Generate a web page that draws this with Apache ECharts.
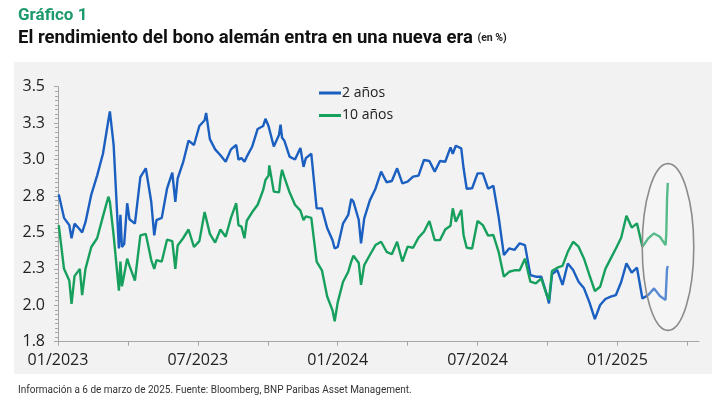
<!DOCTYPE html>
<html>
<head>
<meta charset="utf-8">
<script src="https://cdn.jsdelivr.net/npm/echarts@6/dist/echarts.min.js"></script>
<style>
  html, body { margin: 0; padding: 0; background: #fff; }
  #chart { width: 725px; height: 404px; }
</style>
</head>
<body>
<div id="chart"></div>
<script>
// fechas de las observaciones (semanales, con algunos puntos extra en los picos)
var fechas = [
    '2023-01-02','2023-01-09','2023-01-16','2023-01-19','2023-01-23','2023-01-30','2023-02-02','2023-02-06',
    '2023-02-13','2023-02-20','2023-02-27','2023-03-06','2023-03-08','2023-03-13','2023-03-20','2023-03-22',
    '2023-03-24','2023-03-27','2023-03-31','2023-04-03','2023-04-10','2023-04-17','2023-04-24','2023-05-01',
    '2023-05-05','2023-05-08','2023-05-15','2023-05-22','2023-05-29','2023-06-02','2023-06-05','2023-06-12',
    '2023-06-19','2023-06-26','2023-07-03','2023-07-10','2023-07-12','2023-07-17','2023-07-24','2023-07-31',
    '2023-08-07','2023-08-14','2023-08-21','2023-08-24','2023-08-28','2023-09-01','2023-09-04','2023-09-11',
    '2023-09-18','2023-09-25','2023-09-28','2023-10-02','2023-10-03','2023-10-09','2023-10-16','2023-10-18',
    '2023-10-20','2023-10-23','2023-10-30','2023-11-06','2023-11-13','2023-11-17','2023-11-20','2023-11-27',
    '2023-12-04','2023-12-11','2023-12-18','2023-12-25','2023-12-28','2024-01-01','2024-01-08','2024-01-15',
    '2024-01-19','2024-01-22','2024-01-29','2024-02-01','2024-02-05','2024-02-12','2024-02-19','2024-02-26',
    '2024-03-04','2024-03-11','2024-03-18','2024-03-25','2024-04-01','2024-04-08','2024-04-15','2024-04-22',
    '2024-04-29','2024-05-06','2024-05-13','2024-05-20','2024-05-27','2024-05-30','2024-06-03','2024-06-10',
    '2024-06-13','2024-06-17','2024-06-24','2024-07-01','2024-07-08','2024-07-15','2024-07-22','2024-07-29',
    '2024-08-05','2024-08-12','2024-08-19','2024-08-26','2024-09-02','2024-09-09','2024-09-16','2024-09-23',
    '2024-09-30','2024-10-03','2024-10-07','2024-10-14','2024-10-21','2024-10-28','2024-11-04','2024-11-11',
    '2024-11-18','2024-11-25','2024-12-02','2024-12-09','2024-12-16','2024-12-23','2024-12-30','2025-01-06',
    '2025-01-13','2025-01-20','2025-01-27','2025-02-03','2025-02-10','2025-02-17','2025-02-24','2025-03-03',
    '2025-03-04','2025-03-05','2025-03-06'
];

// rendimiento bono alemán a 2 años (%)
var dosAnos = [
    2.76, 2.60, 2.55, 2.46, 2.56, 2.52, 2.50, 2.57,
    2.76, 2.89, 3.04, 3.27, 3.33, 3.10, 2.39, 2.62,
    2.40, 2.42, 2.70, 2.59, 2.56, 2.88, 2.94, 2.71,
    2.48, 2.585, 2.60, 2.80, 2.91, 2.71, 2.87, 2.98,
    3.13, 3.10, 3.23, 3.27, 3.32, 3.14, 3.07, 3.03,
    2.985, 3.07, 3.10, 3.00, 3.01, 2.985, 3.02, 3.09,
    3.21, 3.23, 3.28, 3.23, 3.21, 3.09, 3.17, 3.24,
    3.15, 3.13, 3.02, 3.00, 3.08, 2.95, 3.01, 3.04,
    2.665, 2.665, 2.53, 2.448, 2.39, 2.40, 2.56, 2.62,
    2.73, 2.71, 2.585, 2.425, 2.596, 2.72, 2.80, 2.917,
    2.844, 2.853, 2.94, 2.837, 2.848, 2.883, 2.89, 2.997,
    2.99, 2.917, 2.99, 2.985, 3.084, 3.04, 3.095, 3.077,
    2.94, 2.80, 2.803, 2.905, 2.905, 2.80, 2.82, 2.608,
    2.345, 2.39, 2.38, 2.425, 2.413, 2.207, 2.196, 2.196,
    2.075, 2.013, 2.212, 2.242, 2.14, 2.287, 2.242, 2.162,
    2.116, 2.02, 1.905, 2.002, 2.043, 2.059, 2.07, 2.16,
    2.287, 2.224, 2.258, 2.047, 2.07, 2.116, 2.063, 2.036,
    2.03, 2.25, 2.27
];

// rendimiento bono alemán a 10 años (%)
var diezAnos = [
    2.55, 2.25, 2.17, 2.01, 2.20, 2.25, 2.07, 2.25,
    2.40, 2.46, 2.61, 2.745, 2.71, 2.48, 2.10, 2.30,
    2.13, 2.21, 2.32, 2.27, 2.17, 2.48, 2.49, 2.31,
    2.25, 2.31, 2.30, 2.45, 2.44, 2.25, 2.41, 2.46,
    2.52, 2.40, 2.44, 2.64, 2.64, 2.49, 2.43, 2.52,
    2.47, 2.60, 2.70, 2.55, 2.54, 2.46, 2.58, 2.64,
    2.69, 2.79, 2.86, 2.89, 2.96, 2.78, 2.775, 2.87,
    2.93, 2.88, 2.775, 2.69, 2.65, 2.585, 2.61, 2.60,
    2.30, 2.24, 2.06, 1.967, 1.89, 2.02, 2.16, 2.23,
    2.30, 2.34, 2.29, 2.14, 2.276, 2.345, 2.413, 2.436,
    2.367, 2.35, 2.436, 2.30, 2.402, 2.395, 2.464, 2.505,
    2.578, 2.447, 2.447, 2.52, 2.546, 2.665, 2.574, 2.654,
    2.48, 2.395, 2.39, 2.578, 2.55, 2.478, 2.482, 2.367,
    2.196, 2.23, 2.24, 2.24, 2.32, 2.162, 2.15, 2.185,
    2.07, 2.036, 2.235, 2.258, 2.27, 2.367, 2.436, 2.402,
    2.32, 2.207, 2.098, 2.127, 2.25, 2.32, 2.39, 2.464,
    2.615, 2.533, 2.562, 2.402, 2.459, 2.493, 2.47, 2.413,
    2.49, 2.73, 2.84
];

// etiquetas del eje horizontal
var fechasEtiqueta = ['2023-01-01', '2023-07-01', '2024-01-01', '2024-07-01', '2025-01-01'];
var etiquetasX = ['01/2023', '07/2023', '01/2024', '07/2024', '01/2025'];
var fechasTick = ['2023-01-01','2023-04-01','2023-07-01','2023-10-01','2024-01-01','2024-04-01',
    '2024-07-01','2024-10-01','2025-01-01','2025-04-01'];

// meses transcurridos desde 01/2023
var aMeses = function(f){
    var p = f.split('-');
    var y = +p[0], m = +p[1], d = +p[2];
    var dias = new Date(y, m, 0).getDate();
    return (y - 2023) * 12 + (m - 1) + (d - 1) / dias;
};

var azul = '#1b5fc1';
var verde = '#17a05d';
var fuente = 'Open Sans';

var posEtiquetas = fechasEtiqueta.map(aMeses);
var posTicks = fechasTick.map(aMeses);

var option = {
    backgroundColor: '#ffffff',
    animation: false,
    textStyle: { fontFamily: fuente },
    title: [
        {
            text: 'Gráfico 1',
            left: 13, top: 2,
            textStyle: { color: '#1d9a6c', fontSize: 17, fontWeight: 'bold', fontFamily: 'Roboto' }
        },
        {
            text: '{a|El rendimiento del bono alemán entra en una nueva era} {b|(en %)}',
            left: 13, top: 24,
            textStyle: {
                rich: {
                    a: { color: '#111', fontSize: 18.5, fontWeight: 'bold', fontFamily: 'Roboto' },
                    b: { color: '#222', fontSize: 10.5, fontFamily: 'Roboto' }
                }
            }
        },
        {
            text: 'Información a 6 de marzo de 2025. Fuente: Bloomberg, BNP Paribas Asset Management.',
            left: 13, top: 380,
            textStyle: { color: '#333', fontSize: 10, fontWeight: 'normal', fontFamily: 'Roboto' }
        }
    ],
    legend: {
        orient: 'vertical',
        left: 314, top: 80,
        icon: 'rect',
        itemWidth: 22, itemHeight: 3,
        itemGap: 6.5,
        textStyle: { color: '#222', fontSize: 14, lineHeight: 16, padding: [0, 0, 0, -4] },
        data: ['2 años', '10 años']
    },
    grid: { left: 58, right: 26, top: 86.7, bottom: 62.3 },
    xAxis: {
        type: 'value',
        min: 0, max: 27.5,
        axisLine: { lineStyle: { color: '#a6a6a6', width: 1 } },
        axisTick: { show: true, length: 4, customValues: posTicks, lineStyle: { color: '#a6a6a6' } },
        axisLabel: {
            customValues: posEtiquetas,
            margin: 11,
            color: '#222', fontSize: 16,
            formatter: function(v){
                var i = posEtiquetas.indexOf(v);
                return i >= 0 ? etiquetasX[i] : '';
            }
        },
        splitLine: { show: false }
    },
    yAxis: {
        type: 'value',
        min: 1.75, max: 3.5, interval: 0.25,
        axisLine: { show: true, lineStyle: { color: '#a6a6a6', width: 1 } },
        axisTick: { show: true, length: 4, lineStyle: { color: '#a6a6a6' } },
        minorTick: { show: true, splitNumber: 8, length: 3, lineStyle: { color: '#a6a6a6' } },
        axisLabel: {
            margin: 13, color: '#222', fontSize: 16,
            formatter: function(v){ return v.toFixed(1); }
        },
        splitLine: { show: false }
    },
    graphic: [
        {
            id: 'fondo', type: 'rect', z: -10, silent: true,
            shape: { x: 14, y: 62, width: 698, height: 312 },
            style: { fill: '#f2f2f2' }
        }
    ],
    series: [
        {
            name: '2 años', type: 'line', showSymbol: false, symbol: 'none',
            lineStyle: { color: azul, width: 2.4 }, itemStyle: { color: azul },
            data: fechas.map(function(f, i){ return [aMeses(f), dosAnos[i]]; })
        },
        {
            name: '10 años', type: 'line', showSymbol: false, symbol: 'none',
            lineStyle: { color: verde, width: 2.4 }, itemStyle: { color: verde },
            data: fechas.map(function(f, i){ return [aMeses(f), diezAnos[i]]; })
        }
    ]
};

var myChart = echarts.init(document.getElementById('chart'), null, { renderer: 'canvas' });
myChart.setOption(option);

// elipse que resalta el último movimiento (centro y semiejes en unidades de datos)
var elipse = { x: 26.17, y: 2.40, dx: 1.105, dy: 0.572 };
var c = myChart.convertToPixel({ gridIndex: 0 }, [elipse.x, elipse.y]);
var e = myChart.convertToPixel({ gridIndex: 0 }, [elipse.x + elipse.dx, elipse.y + elipse.dy]);
myChart.setOption({
    graphic: [
        {
            id: 'elipse', type: 'ellipse', z: 10, silent: true,
            shape: { cx: c[0], cy: c[1], rx: e[0] - c[0], ry: c[1] - e[1] },
            style: { fill: 'rgba(255,255,255,0.28)', stroke: '#8c8c8c', lineWidth: 1.6 }
        }
    ]
});
</script>
</body>
</html>
